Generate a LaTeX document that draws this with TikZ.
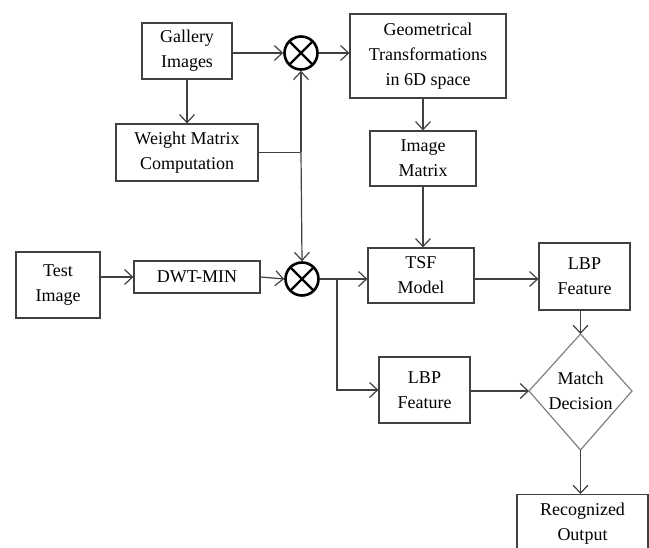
\documentclass[tikz,border=0pt]{standalone}
\usepackage{fontspec}
\setmainfont{Liberation Serif}
\newfontfamily\tnr{Liberation Serif}
\usetikzlibrary{arrows.meta}
\definecolor{ln}{HTML}{404040}
\begin{document}
\begin{tikzpicture}[x=1pt,y=-1pt,
  box/.style={draw=ln,line width=1.2pt,rectangle,inner sep=0pt,align=center,font=\tnr\fontsize{18}{25}\selectfont},
  mult/.style={circle,draw=black,line width=2.6pt,minimum size=33pt,inner sep=0pt,
     path picture={\draw[line width=2.4pt] (path picture bounding box.north west) -- (path picture bounding box.south east)
        (path picture bounding box.north east) -- (path picture bounding box.south west);}},
  conn/.style={draw=ln,line width=1.2pt},
  arr/.style={conn,-{Straight Barb[length=8pt,width=15pt,line width=1.2pt]}}]
\useasboundingbox (0,0) rectangle (649,548);
\clip (0,0) rectangle (649,548);
\node[box,minimum width=90pt,minimum height=56pt] (gal) at (187,51) {Gallery\\Images};
\node[box,minimum width=142pt,minimum height=57pt] (wmc) at (187,152.5) {Weight Matrix\\Computation};
\node[box,minimum width=156pt,minimum height=84pt] (geo) at (428,56) {Geometrical\\Transformations\\in 6D space};
\node[box,minimum width=106pt,minimum height=55pt] (imm) at (423,158.5) {Image\\Matrix};
\node[box,minimum width=84pt,minimum height=66pt] (test) at (58,285) {Test\\Image};
\node[box,minimum width=126pt,minimum height=32pt] (dwt) at (197,277) {DWT-MIN};
\node[box,minimum width=106pt,minimum height=55pt] (tsf) at (421,275.5) {TSF\\Model};
\node[box,minimum width=91pt,minimum height=67pt] (lbpa) at (584.5,276.5) {LBP\\Feature};
\node[box,minimum width=91pt,minimum height=66pt] (lbpb) at (424.5,390) {LBP\\Feature};
\node[box,draw=none,minimum width=10pt] (dec) at (580.5,391) {Match\\Decision};
\coordinate (decN) at (580.5,334);
\coordinate (decS) at (580.5,450);
\coordinate (decW) at (529,391);
\coordinate (decE) at (632,391);
\draw[draw=gray,line width=1.2pt] (decN) -- (decE) -- (decS) -- (decW) -- cycle;
\node[box,minimum width=131pt,minimum height=58pt,anchor=north] (rec) at (582.5,494) {Recognized\\Output};
\draw[conn] (rec.south west) -- ++(0,20) (rec.south east) -- ++(0,20);
\node[mult] (m1) at (301,53) {};
\node[mult] (m2) at (302,279) {};
\coordinate (j) at (m1 |- wmc.east);
\coordinate (b) at (337,279);
% connectors
\draw[arr] (gal.east |- m1) -- (m1.west);
\draw[arr] (m1.east) -- (m1.east -| geo.west);
\draw[arr] (gal.south) -- (wmc.north);
\draw[conn] (wmc.east) -- (j);
\draw[arr] (j) -- (m1.south);
\draw[arr] (j) -- (m2.north);
\draw[arr] (test.east |- dwt) -- (dwt.west);
\draw[arr] (dwt.east) -- (m2.west);
\draw[arr] (m2.east) -- (m2.east -| tsf.west);
\draw[conn] (b) |- (lbpb.west);
\draw[arr] (b |- lbpb.west) -- (lbpb.west);
\draw[arr] (tsf.east |- m2) -- (m2 -| lbpa.west);
\draw[arr] (geo.south -| imm.north) -- (imm.north);
\draw[arr] (imm.south) -- (imm.south |- tsf.north);
\draw[arr] (lbpa.south -| decN) -- (decN);
\draw[arr] (lbpb.east |- decW) -- (decW);
\draw[arr] (decS) -- (decS |- rec.north);
\end{tikzpicture}
\end{document}
